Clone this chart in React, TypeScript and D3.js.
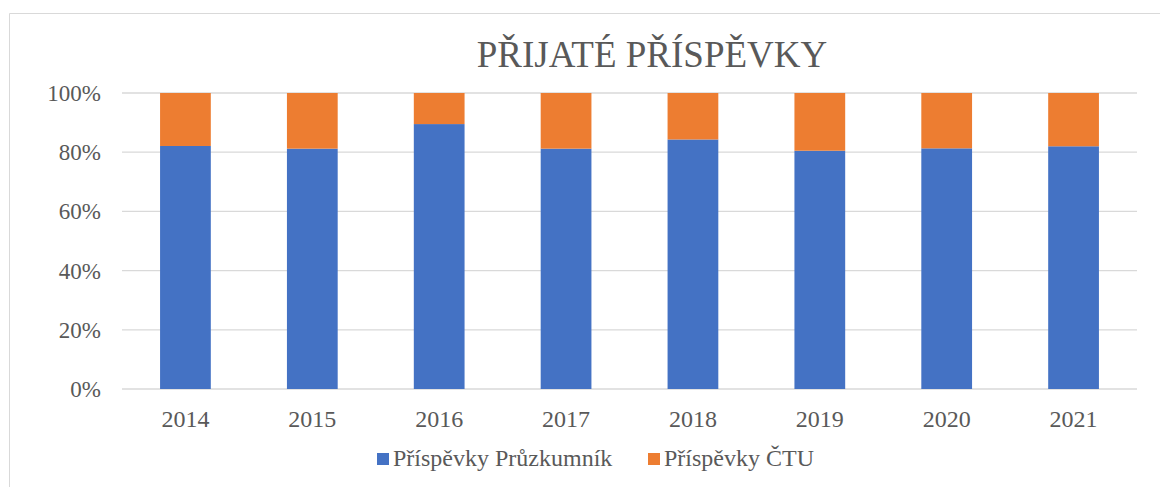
import React from "react";
import * as d3 from "d3";

const years = ["2014", "2015", "2016", "2017", "2018", "2019", "2020", "2021"];
const pruzkumnik = [82.1, 81.2, 89.5, 81.2, 84.3, 80.5, 81.3, 82.0];
const ctu = [17.9, 18.8, 10.5, 18.8, 15.7, 19.5, 18.7, 18.0];
const yTicks = [0, 20, 40, 60, 80, 100];
const seriesNames = ["Příspěvky Průzkumník", "Příspěvky ČTU"];
const colors = ["#4472C4", "#ED7D31"];

const W = 1160;
const H = 487;
const font = "Liberation Serif";
const textColor = "#595959";

export default function App() {
  const x = d3.scaleBand<string>().domain(years).range([122, 1137]).paddingInner(0.6).paddingOuter(0.3);
  const y = d3.scaleLinear().domain([0, 100]).range([389, 93]);
  const data = years.map((yr, i) => ({ yr, a: pruzkumnik[i], b: ctu[i] }));
  const stack = d3.stack<any>().keys(["a", "b"])(data);

  return (
    <svg width={W} height={H} style={{ position: "absolute", left: 0, top: 0, background: "#fff" }}>
      <rect x={0} y={0} width={W} height={H} fill="#fff" />
      <path d={`M9.5,${H} V13.5 H${W}`} fill="none" stroke="#d9d9d9" strokeWidth={1} />
      <text x={652} y={67} textAnchor="middle" fontFamily={font} fontSize={37} fill={textColor}>
        PŘIJATÉ PŘÍSPĚVKY
      </text>
      {yTicks.map((t) => (
        <g key={t}>
          <line x1={122} x2={1137} y1={y(t)} y2={y(t)} stroke="#d9d9d9" strokeWidth={1.3} />
          <text x={101} y={y(t) + 8} textAnchor="end" fontFamily={font} fontSize={23} fill={textColor}>
            {t}%
          </text>
        </g>
      ))}
      {stack.map((s, si) =>
        s.map((d: any, i: number) => (
          <rect
            key={si + "-" + i}
            x={x(years[i])}
            width={x.bandwidth()}
            y={y(d[1])}
            height={y(d[0]) - y(d[1])}
            fill={colors[si]}
          />
        ))
      )}
      {years.map((yr) => (
        <text key={yr} x={(x(yr) as number) + x.bandwidth() / 2} y={427} textAnchor="middle" fontFamily={font} fontSize={24} fill={textColor}>
          {yr}
        </text>
      ))}
      {seriesNames.map((n, i) => {
        const lx = i === 0 ? 377 : 648;
        return (
          <g key={n}>
            <rect x={lx} y={453} width={12} height={12} fill={colors[i]} />
            <text x={lx + 16} y={466} fontFamily={font} fontSize={24} fill={textColor}>
              {n}
            </text>
          </g>
        );
      })}
    </svg>
  );
}
